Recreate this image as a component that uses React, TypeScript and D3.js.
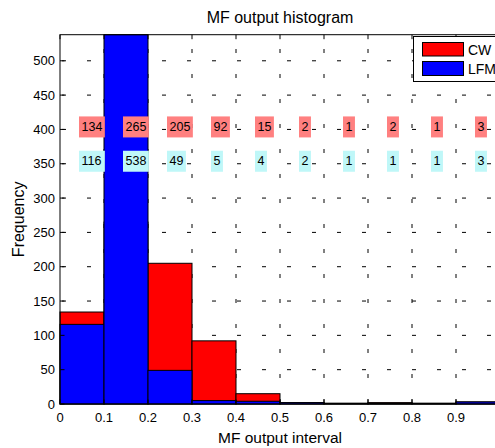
import React from "react";
import * as d3 from "d3";

const binEdges = [0, 0.1, 0.2, 0.3, 0.4, 0.5, 0.6, 0.7, 0.8, 0.9, 1.0];
const cwCounts = [134, 265, 205, 92, 15, 2, 1, 2, 1, 3];
const lfmCounts = [116, 538, 49, 5, 4, 2, 1, 1, 1, 3];
const xTicks = [0, 0.1, 0.2, 0.3, 0.4, 0.5, 0.6, 0.7, 0.8, 0.9];
const yTicks = [0, 50, 100, 150, 200, 250, 300, 350, 400, 450, 500];
const cwLabelY = 400;
const lfmLabelY = 350;
const seriesNames = ["CW", "LFM"];

const W = 495;
const H = 448;
const FONT = "'Liberation Sans', Arial, sans-serif";

export default function App() {
  const x = d3.scaleLinear().domain([0, 1]).range([60, 500]);
  const y = d3.scaleLinear().domain([0, 538]).range([404, 34.7]);
  const [x0, x1] = x.range();
  const [y0, y1] = y.range();

  const bins = binEdges.slice(0, -1).map((e, i) => ({ a: e, b: binEdges[i + 1] }));
  const digitW = 6.95;

  const label = (v: number, cx: number, yv: number, fill: string, key: string) => {
    const s = String(v);
    const w = s.length * digitW + 5;
    const cy = y(yv) - 2.5;
    return (
      <g key={key}>
        <rect x={cx - 3} y={cy - 10.5} width={w} height={21} fill={fill} />
        <text x={cx - 0.5} y={cy} dominantBaseline="central" fontSize={12.5} fontFamily={FONT} fill="#000">
          {s}
        </text>
      </g>
    );
  };

  return (
    <svg width={W} height={H} style={{ position: "fixed", left: 0, top: 0, background: "#fff" }}>
      <rect x={0} y={0} width={W} height={H} fill="#fff" />
      {/* grid */}
      {xTicks.filter((t) => t > 0).map((t) => (
        <line key={"gx" + t} x1={x(t)} x2={x(t)} y1={y0} y2={y1} stroke="#000" strokeWidth={1}
          strokeDasharray="4 21" strokeDashoffset={24} />
      ))}
      {yTicks.filter((t) => t > 0).map((t) => (
        <line key={"gy" + t} x1={x0} x2={x1} y1={y(t)} y2={y(t)} stroke="#000" strokeWidth={1}
          strokeDasharray="4 21" strokeDashoffset={23} />
      ))}
      {/* CW bars */}
      {bins.map((b, i) => (
        <rect key={"cw" + i} x={x(b.a)} y={y(cwCounts[i])} width={x(b.b) - x(b.a)} height={y(0) - y(cwCounts[i])}
          fill="#ff0000" stroke="#000" strokeWidth={1} />
      ))}
      {/* LFM bars */}
      {bins.map((b, i) => (
        <rect key={"lfm" + i} x={x(b.a)} y={y(lfmCounts[i])} width={x(b.b) - x(b.a)} height={y(0) - y(lfmCounts[i])}
          fill="#0000ff" stroke="#000" strokeWidth={1} />
      ))}
      {/* axes box */}
      <rect x={x0} y={y1} width={x1 - x0} height={y0 - y1} fill="none" stroke="#000" strokeWidth={1} />
      {xTicks.map((t) => (
        <g key={"xt" + t}>
          <line x1={x(t)} x2={x(t)} y1={y0} y2={y0 - 4.5} stroke="#000" />
          <line x1={x(t)} x2={x(t)} y1={y1} y2={y1 + 4.5} stroke="#000" />
          <text x={x(t)} y={417} textAnchor="middle" dominantBaseline="central" fontSize={13} fontFamily={FONT}>
            {String(t)}
          </text>
        </g>
      ))}
      {yTicks.map((t) => (
        <g key={"yt" + t}>
          <line x1={x0} x2={x0 + 4.5} y1={y(t)} y2={y(t)} stroke="#000" />
          <text x={55} y={y(t)} textAnchor="end" dominantBaseline="central" fontSize={13} fontFamily={FONT}>
            {String(t)}
          </text>
        </g>
      ))}
      {/* value labels */}
      {bins.map((b, i) => label(cwCounts[i], x((b.a + b.b) / 2), cwLabelY, "#ff8080", "lc" + i))}
      {bins.map((b, i) => label(lfmCounts[i], x((b.a + b.b) / 2), lfmLabelY, "#bff7f8", "ll" + i))}
      {/* legend */}
      <g>
        <rect x={413.5} y={36.5} width={100} height={45} fill="#fff" stroke="#000" strokeWidth={1} />
        <rect x={422.5} y={42.5} width={41} height={13.5} fill="#ff0000" stroke="#000" strokeWidth={1} />
        <rect x={422.5} y={61.5} width={41} height={14} fill="#0000ff" stroke="#000" strokeWidth={1} />
        <text x={468} y={50} dominantBaseline="central" fontSize={14} fontFamily={FONT}>{seriesNames[0]}</text>
        <text x={468} y={69} dominantBaseline="central" fontSize={14} fontFamily={FONT}>{seriesNames[1]}</text>
      </g>
      {/* titles */}
      <text x={(x0 + x1) / 2} y={23} textAnchor="middle" fontSize={16} fontFamily={FONT}>MF output histogram</text>
      <text x={(x0 + x1) / 2} y={443} textAnchor="middle" fontSize={15.5} fontFamily={FONT}>MF output interval</text>
      <text transform={`translate(24,${(y0 + y1) / 2}) rotate(-90)`} textAnchor="middle" fontSize={16} fontFamily={FONT}>
        Frequency
      </text>
    </svg>
  );
}
